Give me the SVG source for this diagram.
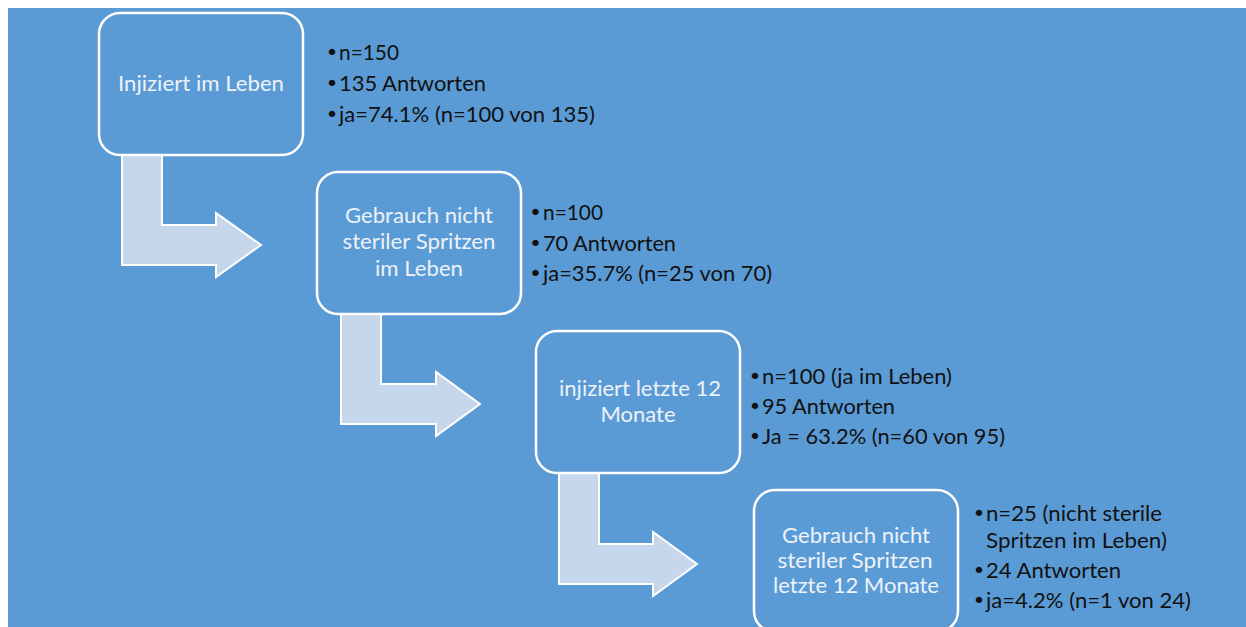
<svg xmlns="http://www.w3.org/2000/svg" width="1246" height="627" viewBox="0 0 1246 627">
<style>
.bg{fill:#5B9BD5}
.box rect{fill:#5B9BD5;stroke:#FFFFFF;stroke-width:2.5}
.box text{font-family:"Lato","Open Sans",sans-serif;font-size:22px;fill:#EDF2F9;text-anchor:middle}
.info text{font-family:"Lato","Open Sans",sans-serif;font-size:22px;fill:#111111}
.info text.b{font-size:22px;font-family:"DejaVu Sans",sans-serif}
.arrow{fill:#C6D6EB;stroke:#FFFFFF;stroke-width:2}
</style>
<rect class="bg" x="8" y="8" width="1238" height="619"/>
<g id="connectors">
<path class="arrow" d="M122,155 L162,155 L162,225 L216,225 L216,213 L261,245 L216,277 L216,265 L122,265 Z"/>
<path class="arrow" d="M341,314 L381,314 L381,384 L436,384 L436,372 L480,404 L436,436 L436,424 L341,424 Z"/>
<path class="arrow" d="M559,473 L599,473 L599,544 L653,544 L653,532 L697,564 L653,596 L653,584 L559,584 Z"/>
</g>
<g id="node1" class="box">
<rect x="99" y="13" width="204" height="142" rx="21"/>
<text x="201" y="91" textLength="166" lengthAdjust="spacingAndGlyphs">Injiziert im Leben</text>
</g>
<g id="info1" class="info">
<text class="b" x="325.5" y="60">•</text>
<text x="339" y="60" textLength="60" lengthAdjust="spacingAndGlyphs">n=150</text>
<text class="b" x="325.5" y="91">•</text>
<text x="339" y="91" textLength="147" lengthAdjust="spacingAndGlyphs">135 Antworten</text>
<text class="b" x="325.5" y="122">•</text>
<text x="339" y="122" textLength="256" lengthAdjust="spacingAndGlyphs">ja=74.1% (n=100 von 135)</text>
</g>
<g id="node2" class="box">
<rect x="317" y="172" width="204" height="142" rx="21"/>
<text x="419" y="223" textLength="148" lengthAdjust="spacingAndGlyphs">Gebrauch nicht</text>
<text x="419" y="249" textLength="153" lengthAdjust="spacingAndGlyphs">steriler Spritzen</text>
<text x="419" y="276" textLength="88" lengthAdjust="spacingAndGlyphs">im Leben</text>
</g>
<g id="info2" class="info">
<text class="b" x="529" y="220">•</text>
<text x="543" y="220" textLength="60" lengthAdjust="spacingAndGlyphs">n=100</text>
<text class="b" x="529" y="251">•</text>
<text x="543" y="251" textLength="133" lengthAdjust="spacingAndGlyphs">70 Antworten</text>
<text class="b" x="529" y="281">•</text>
<text x="543" y="281" textLength="229" lengthAdjust="spacingAndGlyphs">ja=35.7% (n=25 von 70)</text>
</g>
<g id="node3" class="box">
<rect x="536" y="331" width="204" height="142" rx="21"/>
<text x="640" y="396" textLength="162" lengthAdjust="spacingAndGlyphs">injiziert letzte 12</text>
<text x="638" y="422" textLength="75" lengthAdjust="spacingAndGlyphs">Monate</text>
</g>
<g id="info3" class="info">
<text class="b" x="748.5" y="384">•</text>
<text x="762" y="384" textLength="190" lengthAdjust="spacingAndGlyphs">n=100 (ja im Leben)</text>
<text class="b" x="748.5" y="414">•</text>
<text x="762" y="414" textLength="133" lengthAdjust="spacingAndGlyphs">95 Antworten</text>
<text class="b" x="748.5" y="444">•</text>
<text x="762" y="444" textLength="243" lengthAdjust="spacingAndGlyphs">Ja = 63.2% (n=60 von 95)</text>
</g>
<g id="node4" class="box">
<rect x="754" y="490" width="204" height="142" rx="21"/>
<text x="856" y="543" textLength="148" lengthAdjust="spacingAndGlyphs">Gebrauch nicht</text>
<text x="855" y="568" textLength="155" lengthAdjust="spacingAndGlyphs">steriler Spritzen</text>
<text x="856" y="593" textLength="166" lengthAdjust="spacingAndGlyphs">letzte 12 Monate</text>
</g>
<g id="info4" class="info">
<text class="b" x="972.5" y="521">•</text>
<text x="986" y="521" textLength="176" lengthAdjust="spacingAndGlyphs">n=25 (nicht sterile</text>
<text x="986" y="548" textLength="181" lengthAdjust="spacingAndGlyphs">Spritzen im Leben)</text>
<text class="b" x="972.5" y="578">•</text>
<text x="986" y="578" textLength="135" lengthAdjust="spacingAndGlyphs">24 Antworten</text>
<text class="b" x="972.5" y="608">•</text>
<text x="986" y="608" textLength="205" lengthAdjust="spacingAndGlyphs">ja=4.2% (n=1 von 24)</text>
</g>
</svg>
